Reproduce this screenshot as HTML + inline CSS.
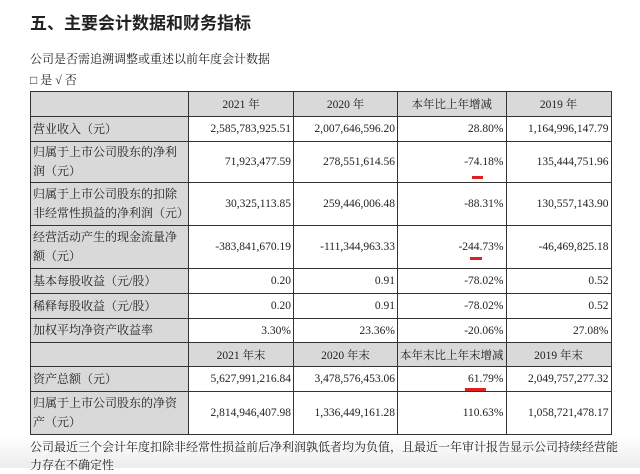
<!DOCTYPE html>
<html><head><meta charset="utf-8"><style>
body{margin:0;width:640px;height:468px;overflow:hidden;background:#fff;font-family:"Liberation Serif","Noto Serif CJK SC",serif;color:#222;position:relative}
.t{position:absolute;white-space:nowrap}
table{position:absolute;left:30px;top:91px;border-collapse:collapse;table-layout:fixed;font-size:11.5px}
td{border:1.5px solid #333;padding:0 2px;overflow:hidden;white-space:nowrap}
td.l{background:#d9d9d9;text-align:left;white-space:normal;line-height:19px;font-size:12px;word-break:break-all}
td.h{background:#d9d9d9;text-align:center}
td.n{text-align:right}
.red{position:absolute;background:#e02020;height:3px}
</style></head><body>
<div style="position:absolute;left:0;top:436px;width:640px;height:32px;background:linear-gradient(#fff,#ececec)"></div>
<div class="t" style="left:30px;top:9px;font-size:17px;font-weight:bold;font-family:'Liberation Sans','Noto Sans CJK SC',sans-serif">五、主要会计数据和财务指标</div>
<div class="t" style="left:30px;top:50px;font-size:12px">公司是否需追溯调整或重述以前年度会计数据</div>
<div class="t" style="left:30px;top:71px;font-size:12px">□ 是 √ 否</div>
<table>
<colgroup><col style="width:158px"><col style="width:105px"><col style="width:104px"><col style="width:106px"><col style="width:105px"></colgroup>
<tr style="height:25px"><td class="h"></td><td class="h">2021 年</td><td class="h">2020 年</td><td class="h">本年比上年增减</td><td class="h">2019 年</td></tr>
<tr style="height:25px"><td class="l">营业收入（元）</td><td class="n">2,585,783,925.51</td><td class="n">2,007,646,596.20</td><td class="n">28.80%</td><td class="n">1,164,996,147.79</td></tr>
<tr style="height:41px"><td class="l">归属于上市公司股东的净利润（元）</td><td class="n">71,923,477.59</td><td class="n">278,551,614.56</td><td class="n">-74.18%</td><td class="n">135,444,751.96</td></tr>
<tr style="height:43px"><td class="l">归属于上市公司股东的扣除非经常性损益的净利润（元）</td><td class="n">30,325,113.85</td><td class="n">259,446,006.48</td><td class="n">-88.31%</td><td class="n">130,557,143.90</td></tr>
<tr style="height:43px"><td class="l">经营活动产生的现金流量净额（元）</td><td class="n">-383,841,670.19</td><td class="n">-111,344,963.33</td><td class="n">-244.73%</td><td class="n">-46,469,825.18</td></tr>
<tr style="height:25px"><td class="l">基本每股收益（元/股）</td><td class="n">0.20</td><td class="n">0.91</td><td class="n">-78.02%</td><td class="n">0.52</td></tr>
<tr style="height:25px"><td class="l">稀释每股收益（元/股）</td><td class="n">0.20</td><td class="n">0.91</td><td class="n">-78.02%</td><td class="n">0.52</td></tr>
<tr style="height:24px"><td class="l">加权平均净资产收益率</td><td class="n">3.30%</td><td class="n">23.36%</td><td class="n">-20.06%</td><td class="n">27.08%</td></tr>
<tr style="height:24px"><td class="h"></td><td class="h">2021 年末</td><td class="h">2020 年末</td><td class="h">本年末比上年末增减</td><td class="h">2019 年末</td></tr>
<tr style="height:25px"><td class="l">资产总额（元）</td><td class="n">5,627,991,216.84</td><td class="n">3,478,576,453.06</td><td class="n">61.79%</td><td class="n">2,049,757,277.32</td></tr>
<tr style="height:43px"><td class="l">归属于上市公司股东的净资产（元）</td><td class="n">2,814,946,407.98</td><td class="n">1,336,449,161.28</td><td class="n">110.63%</td><td class="n">1,058,721,478.17</td></tr>
</table>
<div class="red" style="left:472px;top:176px;width:11px"></div>
<div class="red" style="left:470px;top:257px;width:12px"></div>
<div class="red" style="left:465px;top:388px;width:21px"></div>
<div class="t" style="left:30px;top:438px;font-size:12px;line-height:18px;white-space:normal;width:592px">公司最近三个会计年度扣除非经常性损益前后净利润孰低者均为负值，且最近一年审计报告显示公司持续经营能力存在不确定性</div>
</body></html>
